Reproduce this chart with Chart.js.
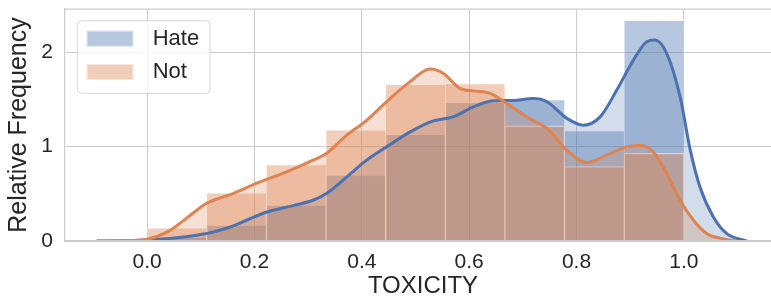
<!DOCTYPE html>
<html>
<head>
<meta charset="utf-8">
<script src="https://cdn.jsdelivr.net/npm/chart.js@4.4.1/dist/chart.umd.min.js"></script>
<style>
  html, body { margin: 0; padding: 0; background: #ffffff; overflow: hidden; }
  #clip { width: 771px; height: 298px; overflow: hidden; position: relative; }
  #wrap { width: 781px; height: 298px; position: relative; }
</style>
</head>
<body>
<div id="clip"><div id="wrap"><canvas id="c"></canvas></div></div>
<script>
// ---------------- data ----------------
const seriesNames = ['Hate', 'Not'];
const binCenters = [0.0556, 0.1667, 0.2778, 0.3889, 0.5, 0.6111, 0.7222, 0.8333, 0.9444];
const hateHist = [0.04, 0.17, 0.38, 0.70, 1.13, 1.47, 1.50, 1.17, 2.34];
const notHist  = [0.14, 0.51, 0.81, 1.18, 1.66, 1.67, 1.22, 0.79, 0.93];

const hateKdeX = [-0.094, -0.05, 0.0, 0.055, 0.111, 0.148, 0.185, 0.222, 0.272, 0.309, 0.334, 0.372, 0.409, 0.446, 0.49, 0.533, 0.57, 0.608, 0.645, 0.682, 0.72, 0.745, 0.782, 0.813, 0.844, 0.875, 0.906, 0.931, 0.946, 0.968, 0.993, 1.012, 1.03, 1.055, 1.08, 1.117];
const hateKdeY = [0.0, 0.003, 0.01, 0.034, 0.08, 0.135, 0.22, 0.305, 0.375, 0.432, 0.503, 0.68, 0.857, 0.998, 1.157, 1.274, 1.316, 1.423, 1.486, 1.49, 1.51, 1.476, 1.30, 1.228, 1.316, 1.60, 1.918, 2.113, 2.13, 1.99, 1.53, 0.963, 0.573, 0.255, 0.078, 0.0];

const notKdeX = [-0.094, -0.05, 0.0, 0.042, 0.073, 0.111, 0.16, 0.21, 0.26, 0.309, 0.334, 0.372, 0.409, 0.446, 0.49, 0.527, 0.552, 0.583, 0.608, 0.639, 0.670, 0.707, 0.745, 0.782, 0.819, 0.856, 0.894, 0.918, 0.943, 0.968, 0.993, 1.018, 1.043, 1.067, 1.098];
const notKdeY = [0.0, 0.003, 0.02, 0.11, 0.24, 0.40, 0.503, 0.626, 0.733, 0.857, 0.928, 1.122, 1.28, 1.476, 1.69, 1.823, 1.777, 1.618, 1.592, 1.565, 1.459, 1.316, 1.193, 0.963, 0.832, 0.91, 0.998, 1.016, 0.945, 0.715, 0.432, 0.22, 0.078, 0.03, 0.0];

const xTicks = [0.0, 0.2, 0.4, 0.6, 0.8, 1.0];
const yTicks = [0, 1, 2];
const xTitle = 'TOXICITY';
const yTitle = 'Relative Frequency';

// ---------------- style ----------------
const BLUE = [76, 114, 176];
const ORANGE = [221, 132, 82];
const rgba = (c, a) => `rgba(${c[0]},${c[1]},${c[2]},${a})`;
const TEXT = '#262626';
const GRID = '#cccccc';
const FONT = "'Liberation Sans', Arial, sans-serif";

const pts = (xs, ys) => xs.map((x, i) => ({ x: x, y: ys[i] }));
const barPts = (ys) => binCenters.map((x, i) => ({ x: x, y: ys[i] }));

const barStyle = {
  type: 'bar',
  grouped: false,
  barPercentage: 1,
  categoryPercentage: 1,
  borderColor: 'rgba(255,255,255,0.5)',
  borderWidth: { top: 1, left: 0.6, right: 0.6, bottom: 0 },
  borderSkipped: 'start'
};
const lineBase = {
  type: 'line',
  pointRadius: 0,
  pointHoverRadius: 0,
  cubicInterpolationMode: 'monotone'
};

const datasets = [
  Object.assign({}, barStyle, { label: seriesNames[0], data: barPts(hateHist), backgroundColor: rgba(BLUE, 0.4), order: 6, isLegend: true }),
  Object.assign({}, lineBase, { label: 'hate-shade', data: pts(hateKdeX, hateKdeY), borderColor: 'rgba(0,0,0,0)', borderWidth: 1, fill: 'origin', backgroundColor: rgba(BLUE, 0.25), order: 5 }),
  Object.assign({}, barStyle, { label: seriesNames[1], data: barPts(notHist), backgroundColor: rgba(ORANGE, 0.4), order: 4, isLegend: true }),
  Object.assign({}, lineBase, { label: 'not-shade', data: pts(notKdeX, notKdeY), borderColor: 'rgba(0,0,0,0)', borderWidth: 1, fill: 'origin', backgroundColor: rgba(ORANGE, 0.25), order: 3 }),
  Object.assign({}, lineBase, { label: 'hate-kde', data: pts(hateKdeX, hateKdeY), borderColor: rgba(BLUE, 1), borderWidth: 3, fill: false, order: 2 }),
  Object.assign({}, lineBase, { label: 'not-kde', data: pts(notKdeX, notKdeY), borderColor: rgba(ORANGE, 1), borderWidth: 3, fill: false, order: 1 })
];

// top spine (right spine falls outside the visible picture)
const spinePlugin = {
  id: 'spines',
  afterDatasetsDraw(chart) {
    const { ctx, chartArea: a } = chart;
    ctx.save();
    ctx.strokeStyle = GRID;
    ctx.lineWidth = 1.25;
    ctx.beginPath();
    ctx.moveTo(a.left, a.top);
    ctx.lineTo(a.right, a.top);
    ctx.stroke();
    ctx.restore();
  }
};

// framed legend inside plot area (matplotlib style)
const boxLegendPlugin = {
  id: 'boxLegend',
  afterDraw(chart) {
    const { ctx, chartArea: a } = chart;
    const items = chart.data.datasets.filter(d => d.isLegend);
    const x0 = a.left + 12.3, y0 = a.top + 11.7, w = 132.7, h = 72.6, r = 4;
    ctx.save();
    ctx.beginPath();
    ctx.moveTo(x0 + r, y0);
    ctx.lineTo(x0 + w - r, y0);
    ctx.arcTo(x0 + w, y0, x0 + w, y0 + r, r);
    ctx.lineTo(x0 + w, y0 + h - r);
    ctx.arcTo(x0 + w, y0 + h, x0 + w - r, y0 + h, r);
    ctx.lineTo(x0 + r, y0 + h);
    ctx.arcTo(x0, y0 + h, x0, y0 + h - r, r);
    ctx.lineTo(x0, y0 + r);
    ctx.arcTo(x0, y0, x0 + r, y0, r);
    ctx.closePath();
    ctx.fillStyle = 'rgba(255,255,255,0.8)';
    ctx.fill();
    ctx.strokeStyle = 'rgba(204,204,204,0.8)';
    ctx.lineWidth = 1;
    ctx.stroke();
    items.forEach((d, i) => {
      const sy = y0 + 10 + i * 33.3;
      ctx.fillStyle = d.backgroundColor;
      ctx.fillRect(x0 + 9.4, sy, 46.7, 16);
      ctx.strokeStyle = 'rgba(255,255,255,0.5)';
      ctx.lineWidth = 1;
      ctx.strokeRect(x0 + 9.9, sy + 0.5, 45.7, 15);
      ctx.fillStyle = TEXT;
      ctx.font = `22px ${FONT}`;
      ctx.textAlign = 'left';
      ctx.textBaseline = 'middle';
      ctx.fillText(d.label, x0 + 75.4, sy + 8.3);
    });
    ctx.restore();
  }
};

new Chart(document.getElementById('c'), {
  type: 'bar',
  data: { datasets: datasets },
  options: {
    responsive: true,
    maintainAspectRatio: false,
    devicePixelRatio: 1,
    animation: false,
    events: [],
    layout: { padding: { left: 0, top: 9, right: 0, bottom: 0 } },
    plugins: {
      legend: { display: false },
      tooltip: { enabled: false }
    },
    scales: {
      x: {
        type: 'linear',
        position: 'bottom',
        min: -0.153,
        max: 1.181,
        bounds: 'data',
        offset: false,
        grid: { color: GRID, lineWidth: 1, drawTicks: false, offset: false },
        border: { display: true, color: GRID, width: 1.25, z: 1 },
        afterBuildTicks: (s) => { s.ticks = xTicks.map(v => ({ value: v })); },
        afterFit: (s) => { s.height = 57; s.paddingLeft = 0; s.paddingRight = 0; },
        ticks: {
          color: TEXT,
          font: { family: FONT, size: 21 },
          padding: 9,
          maxRotation: 0,
          autoSkip: false,
          callback: (v) => Number(v).toFixed(1)
        },
        title: {
          display: true,
          text: xTitle,
          color: TEXT,
          font: { family: FONT, size: 24, lineHeight: 1 },
          padding: { top: 0, bottom: 0 }
        }
      },
      y: {
        type: 'linear',
        position: 'left',
        min: 0,
        max: 2.46,
        bounds: 'data',
        grid: { color: GRID, lineWidth: 1, drawTicks: false },
        border: { display: true, color: GRID, width: 1.25, z: 1 },
        afterBuildTicks: (s) => { s.ticks = yTicks.map(v => ({ value: v })); },
        afterFit: (s) => { s.width = 65; s.paddingTop = 0; s.paddingBottom = 0; },
        ticks: {
          color: TEXT,
          font: { family: FONT, size: 21 },
          padding: 12,
          autoSkip: false,
          callback: (v) => String(v)
        },
        title: {
          display: true,
          text: yTitle,
          color: TEXT,
          font: { family: FONT, size: 25, lineHeight: 1 },
          padding: { top: 7, bottom: 0 }
        }
      }
    }
  },
  plugins: [spinePlugin, boxLegendPlugin]
});
</script>
</body>
</html>
